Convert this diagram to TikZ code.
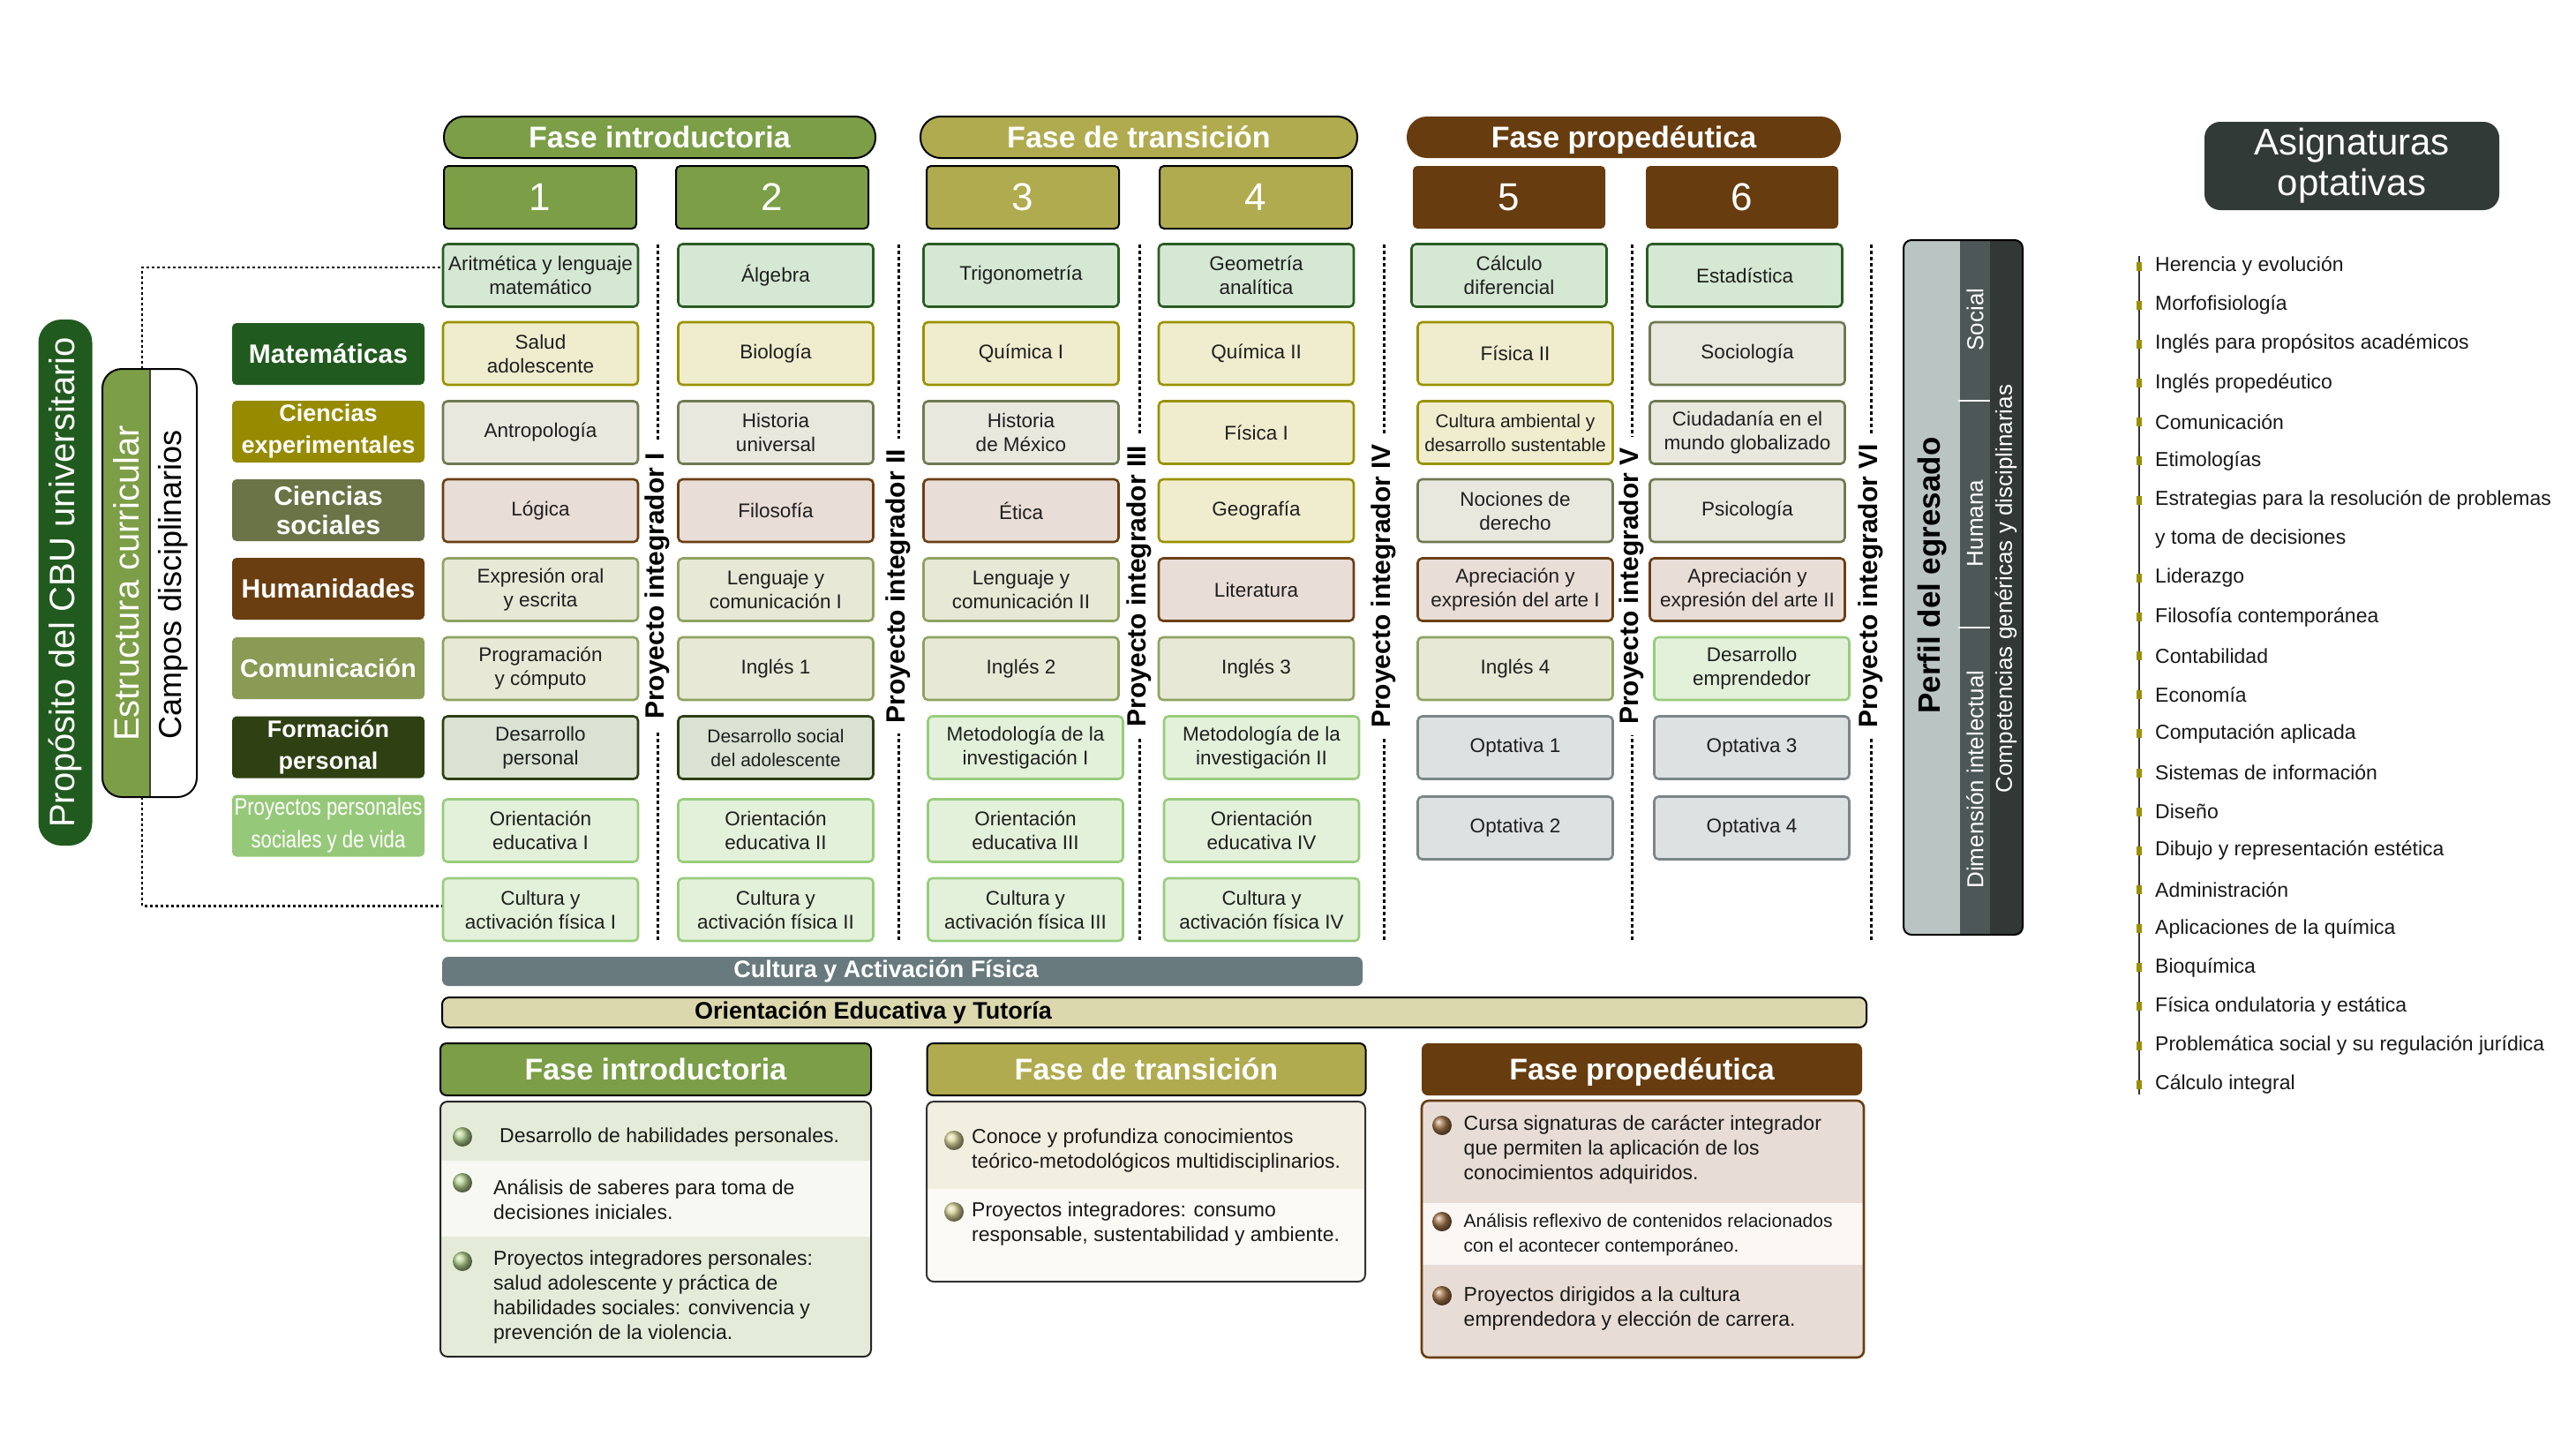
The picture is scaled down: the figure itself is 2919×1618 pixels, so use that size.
\documentclass[tikz,border=0pt]{standalone}
\usepackage{fontspec}
\setmainfont{Liberation Sans}
\newfontfamily\narrowfont[FakeStretch=0.82]{Liberation Sans}
\newcommand\myfs[2]{\fontsize{#1}{#2}\selectfont}
% box colours
\definecolor{cMf}{HTML}{D5E8D4}\definecolor{cMd}{HTML}{2B5D24}
\definecolor{cEf}{HTML}{F0ECCE}\definecolor{cEd}{HTML}{9A9200}
\definecolor{cSf}{HTML}{E8E8DF}\definecolor{cSd}{HTML}{707A52}
\definecolor{cHf}{HTML}{E9DDD7}\definecolor{cHd}{HTML}{6B3F13}
\definecolor{cCf}{HTML}{E7E9D6}\definecolor{cCd}{HTML}{8FA262}
\definecolor{cFf}{HTML}{D9E2D3}\definecolor{cFd}{HTML}{2E4014}
\definecolor{cPf}{HTML}{E3F1DA}\definecolor{cPd}{HTML}{98CC7C}
\definecolor{cOf}{HTML}{DDE1E1}\definecolor{cOd}{HTML}{7B8686}
% label colours
\definecolor{lM}{HTML}{215A1E}\definecolor{lE}{HTML}{968B00}
\definecolor{lS}{HTML}{6B7446}\definecolor{lH}{HTML}{6A3E10}
\definecolor{lC}{HTML}{8A9B55}\definecolor{lF}{HTML}{2F4013}
\definecolor{lP}{HTML}{96C879}
% phases
\definecolor{phA}{HTML}{7B9E47}\definecolor{phB}{HTML}{B0AB4E}\definecolor{phC}{HTML}{673C0F}
% other
\definecolor{barA}{HTML}{687A7E}\definecolor{barB}{HTML}{DCD8AD}
\definecolor{pfA}{HTML}{B9C4C3}\definecolor{pfB}{HTML}{4D5757}\definecolor{pfC}{HTML}{313836}
\definecolor{asig}{HTML}{323A38}\definecolor{mark}{HTML}{9B8F00}
\definecolor{iA}{HTML}{E4ECD9}\definecolor{iB}{HTML}{F7F8F2}
\definecolor{tA}{HTML}{F2EFE0}\definecolor{tB}{HTML}{FBFAF5}
\definecolor{pA}{HTML}{E8DDD6}\definecolor{pB}{HTML}{FAF7F5}
\definecolor{estr}{HTML}{7C9E47}
\definecolor{bulI}{HTML}{B2D08C}\definecolor{bulT}{HTML}{D8D398}\definecolor{bulP}{HTML}{A27448}

\tikzset{
 subj/.style={line width=2.6pt, rounded corners=5pt, minimum width=221pt, minimum height=71pt,
   align=center, inner sep=1pt, font=\myfs{22.5}{27}, text=black!88},
 sM/.style={subj, fill=cMf, draw=cMd},
 sE/.style={subj, fill=cEf, draw=cEd},
 sS/.style={subj, fill=cSf, draw=cSd},
 sH/.style={subj, fill=cHf, draw=cHd},
 sC/.style={subj, fill=cCf, draw=cCd},
 sF/.style={subj, fill=cFf, draw=cFd},
 sP/.style={subj, fill=cPf, draw=cPd},
 sO/.style={subj, fill=cOf, draw=cOd},
 campo/.style={rounded corners=5pt, minimum width=218pt, minimum height=70pt, align=center,
   text=white, inner sep=1pt, font=\bfseries\myfs{30}{35}},
 pill/.style={rounded corners=23pt, minimum width=490pt, minimum height=47pt, text=white,
   text height=24pt, text depth=1pt, inner ysep=0pt, font=\bfseries\myfs{34}{40}},
 numbox/.style={rounded corners=5pt, minimum width=218pt, minimum height=71pt, text=white,
   font=\myfs{44}{50}},
 pint/.style={rotate=90, fill=white, inner xsep=12pt, inner ysep=0pt, font=\bfseries\myfs{30}{34}},
 sepline/.style={line width=3pt, dash pattern=on 4pt off 3pt},
 cbuline/.style={line width=2.5pt, dash pattern=on 3pt off 3pt},
 bhead/.style={rounded corners=7pt, minimum height=59pt, text=white, text height=24pt,
   text depth=1pt, font=\bfseries\myfs{34}{40}},
 btext/.style={anchor=west, align=left, inner sep=0pt, font=\myfs{23}{28}, text=black!90},
 bul/.style={circle, minimum size=22pt, inner sep=0pt},
 item/.style={anchor=west, inner sep=0pt, font=\myfs{23}{27}, text=black!90},
 mk/.style={fill=mark, minimum width=6pt, minimum height=10pt, inner sep=0pt},
 rot/.style={rotate=90, inner sep=0pt}
}

\begin{document}
\begin{tikzpicture}[x=1pt,y=-1pt]
\fill[white] (0,0) rectangle (2919,1618);
\path[use as bounding box] (0,0) rectangle (2919,1618);

% ---------- left panels ----------
\node[rot, fill=lM, rounded corners=26pt, minimum width=596pt, minimum height=61pt,
  text=white, font=\myfs{40}{44}] (cbu) at (74,660) {Propósito del CBU universitario};

\begin{scope}
 \clip[rounded corners=22pt] (116,418) rectangle (223,903);
 \fill[estr] (116,418) rectangle (170,903);
\end{scope}
\draw[line width=1.5pt, black!75] (170,418) -- (170,903);
\node[draw, line width=2pt, rounded corners=22pt, minimum width=107pt, minimum height=485pt, inner sep=0pt] (estrpanel) at (169.5,660.5) {};
\node[rot, text=white, font=\myfs{40}{44}] (estrtx) at (143,661) {Estructura curricular};
\node[rot, text=black, font=\myfs{36}{40}] (campostx) at (196,662) {Campos disciplinarios};

% campo labels
\node[campo, fill=lM] (kM) at (372,401) {Matemáticas};
\node[campo, fill=lE, font=\bfseries\myfs{27}{36}] (kE) at (372,489) {Ciencias\\experimentales};
\node[campo, fill=lS, font=\bfseries\myfs{30}{33}] (kS) at (372,578) {Ciencias\\sociales};
\node[campo, fill=lH] (kH) at (372,667) {Humanidades};
\node[campo, fill=lC, font=\bfseries\myfs{29}{34}] (kC) at (372,757) {Comunicación};
\node[campo, fill=lF, font=\bfseries\myfs{27}{36}] (kF) at (372,846.5) {Formación\\personal};
\node[campo, fill=lP, font=\narrowfont\myfs{27}{37}] (kP) at (372,935.5) {Proyectos personales\\sociales y de vida};

% ---------- phase headers ----------
\node[pill, fill=phA, draw=black, line width=2pt, minimum width=489pt] (phIt) at (747.5,155.5) {Fase introductoria};
\node[pill, fill=phB, draw=black, line width=2pt, minimum width=495pt] (phTt) at (1290.5,155.5) {Fase de transición};
\node[pill, fill=phC, minimum width=492pt] (phPt) at (1840,155.5) {Fase propedéutica};

\node[numbox, fill=phA, draw=black, line width=2pt] (n1) at (612,223.5) {1};
\node[numbox, fill=phA, draw=black, line width=2pt] (n2) at (875,223.5) {2};
\node[numbox, fill=phB, draw=black, line width=2pt] (n3) at (1159,223.5) {3};
\node[numbox, fill=phB, draw=black, line width=2pt] (n4) at (1423,223.5) {4};
\node[numbox, fill=phC] (n5) at (1710,223.5) {5};
\node[numbox, fill=phC] (n6) at (1974,223.5) {6};

% ---------- subject boxes ----------
\node[sM] (b11) at (612.5,312) {Aritmética y lenguaje\\matemático};
\node[sE] (b12) at (612.5,400.5) {Salud\\adolescente};
\node[sS] (b13) at (612.5,490) {Antropología};
\node[sH] (b14) at (612.5,578.5) {Lógica};
\node[sC] (b15) at (612.5,668) {Expresión oral\\y escrita};
\node[sC] (b16) at (612.5,757.5) {Programación\\y cómputo};
\node[sF] (b17) at (612.5,847) {Desarrollo\\personal};
\node[sP] (b18) at (612.5,941) {Orientación\\educativa I};
\node[sP] (b19) at (612.5,1030.5) {Cultura y\\activación física I};

\node[sM] (b21) at (879,312) {Álgebra};
\node[sE] (b22) at (879,400.5) {Biología};
\node[sS] (b23) at (879,490) {Historia\\universal};
\node[sH] (b24) at (879,578.5) {Filosofía};
\node[sC] (b25) at (879,668) {Lenguaje y\\comunicación I};
\node[sC] (b26) at (879,757.5) {Inglés 1};
\node[sF, font=\myfs{21}{27}] (b27) at (879,847) {Desarrollo social\\del adolescente};
\node[sP] (b28) at (879,941) {Orientación\\educativa II};
\node[sP] (b29) at (879,1030.5) {Cultura y\\activación física II};

\node[sM] (b31) at (1157,312) {Trigonometría};
\node[sE] (b32) at (1157,400.5) {Química I};
\node[sS] (b33) at (1157,490) {Historia\\de México};
\node[sH] (b34) at (1157,578.5) {Ética};
\node[sC] (b35) at (1157,668) {Lenguaje y\\comunicación II};
\node[sC] (b36) at (1157,757.5) {Inglés 2};
\node[sP] (b37) at (1162,847) {Metodología de la\\investigación I};
\node[sP] (b38) at (1162,941) {Orientación\\educativa III};
\node[sP] (b39) at (1162,1030.5) {Cultura y\\activación física III};

\node[sM] (b41) at (1423.5,312) {Geometría\\analítica};
\node[sE] (b42) at (1423.5,400.5) {Química II};
\node[sE] (b43) at (1423.5,490) {Física I};
\node[sE] (b44) at (1423.5,578.5) {Geografía};
\node[sH] (b45) at (1423.5,668) {Literatura};
\node[sC] (b46) at (1423.5,757.5) {Inglés 3};
\node[sP] (b47) at (1429.5,847) {Metodología de la\\investigación II};
\node[sP] (b48) at (1429.5,941) {Orientación\\educativa IV};
\node[sP] (b49) at (1429.5,1030.5) {Cultura y\\activación física IV};

\node[sM] (b51) at (1710,312) {Cálculo\\diferencial};
\node[sE] (b52) at (1717,400.5) {Física II};
\node[sE, font=\myfs{21}{27}] (b53) at (1717,490) {Cultura ambiental y\\desarrollo sustentable};
\node[sS] (b54) at (1717,578.5) {Nociones de\\derecho};
\node[sH] (b55) at (1717,668) {Apreciación y\\expresión del arte I};
\node[sC] (b56) at (1717,757.5) {Inglés 4};
\node[sO] (b57) at (1717,847) {Optativa 1};
\node[sO] (b58) at (1717,938) {Optativa 2};

\node[sM] (b61) at (1977,312) {Estadística};
\node[sS] (b62) at (1980,400.5) {Sociología};
\node[sS] (b63) at (1980,490) {Ciudadanía en el\\mundo globalizado};
\node[sS] (b64) at (1980,578.5) {Psicología};
\node[sH] (b65) at (1980,668) {Apreciación y\\expresión del arte II};
\node[sP] (b66) at (1985,757.5) {Desarrollo\\emprendedor};
\node[sO] (b67) at (1985,847) {Optativa 3};
\node[sO] (b68) at (1985,938) {Optativa 4};

% ---------- dotted connectors from the Campos panel ----------
\coordinate (et) at (161,418);
\coordinate (eb) at (161,903);
\draw[cbuline] (et) |- ([yshift=9pt]b11.west);
\draw[cbuline] (eb) |- ([yshift=4pt]b19.west);

% ---------- Proyecto integrador separators ----------
\foreach \xx/\nn/\lab in {745/1/I, 1018/2/II, 1291/3/III, 1568/4/IV, 1849/5/V, 2120/6/VI}{
  \coordinate (st\nn) at (\xx,277);
  \coordinate (sb\nn) at (\xx,1066);
  \draw[sepline] (st\nn) -- (sb\nn);
  \node[pint] (pi\nn) at (\xx,664) {Proyecto integrador \lab};
}

% ---------- Perfil del egresado ----------
\begin{scope}
 \clip[rounded corners=9pt] (2157,272) rectangle (2292,1059);
 \fill[pfA] (2157,272) rectangle (2221,1059);
 \fill[pfB] (2221,272) rectangle (2255,1059);
 \fill[pfC] (2255,272) rectangle (2292,1059);
\end{scope}
\node[draw, line width=2pt, rounded corners=9pt, minimum width=135pt, minimum height=787pt, inner sep=0pt] (perfil) at (2224.5,665.5) {};
\draw[white, line width=2pt] (2219,454) -- (2255,454);
\draw[white, line width=2pt] (2219,711) -- (2255,711);
\node[rot, font=\bfseries\myfs{35}{40}] (perfiltx) at (2189,652) {Perfil del egresado};
\node[rot, text=white, font=\myfs{26}{30}] (social) at (2238,362) {Social};
\node[rot, text=white, font=\myfs{26}{30}] (humana) at (2238,593) {Humana};
\node[rot, text=white, font=\myfs{26}{30}] (dimint) at (2238,883) {Dimensión intelectual};
\node[rot, text=white, font=\myfs{26}{30}] (compet) at (2273,667) {Competencias genéricas y disciplinarias};

% ---------- Asignaturas optativas ----------
\node[fill=asig, rounded corners=18pt, minimum width=334pt, minimum height=100pt, text=white,
  align=center, font=\myfs{42}{46}] (asg) at (2665,188) {Asignaturas\\optativas};
\coordinate (lt) at (2424,290);
\coordinate (lb) at (2424,1240);
\draw[line width=1.6pt, black!80] (lt) -- (lb);
\foreach \t [count=\i from 0] in {Herencia y evolución, Morfofisiología, Inglés para propósitos académicos,
  Inglés propedéutico, Comunicación, Etimologías, Estrategias para la resolución de problemas,
  y toma de decisiones, Liderazgo, Filosofía contemporánea, Contabilidad, Economía,
  Computación aplicada, Sistemas de información, Diseño, Dibujo y representación estética,
  Administración, Aplicaciones de la química, Bioquímica, Física ondulatoria y estática,
  Problemática social y su regulación jurídica, Cálculo integral}{
  \node[item] (o\i) at (2442,{301.6+44.15*\i}) {\t};
  \ifnum\i=7\else \node[mk] (m\i) at (2424,{301.6+44.15*\i}) {};\fi
}

% ---------- bars ----------
\node[fill=barA, rounded corners=7pt, minimum width=1043pt, minimum height=33pt, inner sep=0pt] (cafbar) at (1022.5,1100.5) {};
\node[text=white, font=\bfseries\myfs{27}{30}, inner sep=0pt] (caftx) at (1004,1100.5) {Cultura y Activación Física};
\node[fill=barB, draw=black, line width=2pt, rounded corners=8pt, minimum width=1614pt, minimum height=34pt, inner sep=0pt] (oetbar) at (1308,1147) {};
\node[text=black, font=\bfseries\myfs{27}{30}, inner sep=0pt] (oettx) at (989.5,1147) {Orientación Educativa y Tutoría};

% ---------- bottom: Fase introductoria ----------
\node[bhead, fill=phA, draw=black, line width=2pt, minimum width=488pt] (ih) at (743,1211.5) {Fase introductoria};
\begin{scope}
 \clip[rounded corners=8pt] (499,1248) rectangle (987,1537);
 \fill[iA] (499,1248) rectangle (987,1315);
 \fill[iB] (499,1315) rectangle (987,1401);
 \fill[iA] (499,1401) rectangle (987,1537);
\end{scope}
\node[draw=black!85, line width=2pt, rounded corners=8pt, minimum width=488pt, minimum height=289pt, inner sep=0pt] (ib) at (743,1392.5) {};
\node[bul, ball color=bulI] (ib1) at (524,1288) {};
\node[bul, ball color=bulI] (ib2) at (524,1340) {};
\node[bul, ball color=bulI] (ib3) at (524,1429) {};
\node[btext] (it1) at (566,1289) {Desarrollo de habilidades personales.};
\node[btext] (it2) at (559,1359) {Análisis de saberes para toma de\\decisiones iniciales.};
\node[btext] (it3) at (559,1470) {Proyectos integradores personales:\\salud adolescente y práctica de\\habilidades sociales: convivencia y\\prevención de la violencia.};

% ---------- bottom: Fase de transición ----------
\node[bhead, fill=phB, draw=black, line width=2pt, minimum width=497pt] (th) at (1299,1211.5) {Fase de transición};
\begin{scope}
 \clip[rounded corners=8pt] (1050,1248) rectangle (1547,1452);
 \fill[tA] (1050,1248) rectangle (1547,1347);
 \fill[tB] (1050,1347) rectangle (1547,1452);
\end{scope}
\node[draw=black!80, line width=2pt, rounded corners=8pt, minimum width=497pt, minimum height=204pt, inner sep=0pt] (tb) at (1298.5,1350) {};
\node[bul, ball color=bulT] (tb1) at (1081,1292) {};
\node[bul, ball color=bulT] (tb2) at (1081,1373) {};
\node[btext] (tt1) at (1101,1303.5) {Conoce y profundiza conocimientos\\teórico-metodológicos multidisciplinarios.};
\node[btext] (tt2) at (1101,1387) {Proyectos integradores: consumo\\responsable, sustentabilidad y ambiente.};

% ---------- bottom: Fase propedéutica ----------
\node[bhead, fill=phC, minimum width=499pt] (prh) at (1860.5,1211.5) {Fase propedéutica};
\begin{scope}
 \clip[rounded corners=8pt] (1611,1247) rectangle (2112,1538);
 \fill[pA] (1611,1247) rectangle (2112,1363);
 \fill[pB] (1611,1363) rectangle (2112,1433);
 \fill[pA] (1611,1433) rectangle (2112,1538);
\end{scope}
\node[draw=lH, line width=2.6pt, rounded corners=8pt, minimum width=501pt, minimum height=291pt, inner sep=0pt] (prb) at (1861.5,1392.5) {};
\node[bul, ball color=bulP] (pb1) at (1634,1275) {};
\node[bul, ball color=bulP] (pb2) at (1634,1384) {};
\node[bul, ball color=bulP] (pb3) at (1634,1468) {};
\node[btext] (pt1) at (1658.5,1302.5) {Cursa signaturas de carácter integrador\\que permiten la aplicación de los\\conocimientos adquiridos.};
\node[btext, font=\myfs{21}{28}] (pt2) at (1658.5,1399) {Análisis reflexivo de contenidos relacionados\\con el acontecer contemporáneo.};
\node[btext] (pt3) at (1658.5,1482.5) {Proyectos dirigidos a la cultura\\emprendedora y elección de carrera.};
\end{tikzpicture}
\end{document}
